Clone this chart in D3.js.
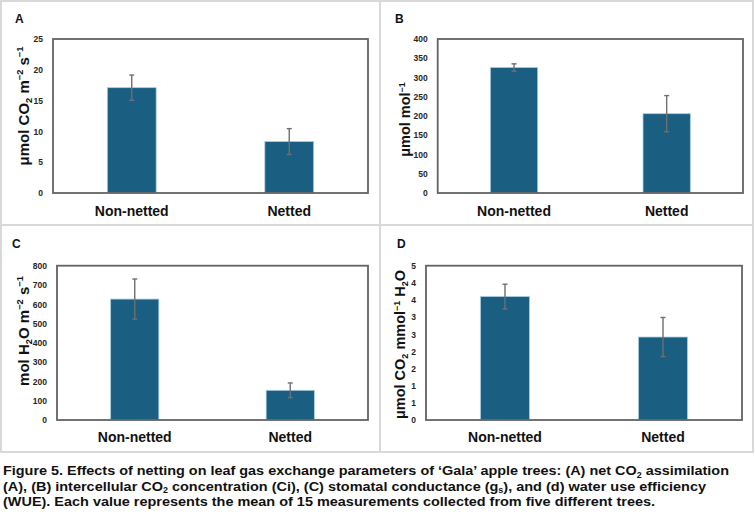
<!DOCTYPE html>
<html>
<head>
<meta charset="utf-8">
<script src="https://cdn.jsdelivr.net/npm/d3@7"></script>
<style>
html,body{margin:0;padding:0;background:#fff;}
svg{display:block;}
</style>
</head>
<body>
<svg id="chart" width="755" height="522"></svg>
<script>
// ---------- data ----------
const categories = ["Non-netted", "Netted"];
const valuesA = [17.1, 8.35];
const errorsA = [2.05, 2.1];
const valuesB = [326, 206];
const errorsB = [9.5, 47];
const valuesC = [627, 154];
const errorsC = [104, 38];
const valuesD = [3.6, 2.42];
const errorsD = [0.36, 0.57];
const ticksA = [0, 5, 10, 15, 20, 25];
const ticksB = [0, 50, 100, 150, 200, 250, 300, 350, 400];
const ticksC = [0, 100, 200, 300, 400, 500, 600, 700, 800];
const ticksD = [0, 0.5, 1, 1.5, 2, 2.5, 3, 3.5, 4, 4.5];
const tickLabelsD = ["0", "1", "1", "2", "2", "3", "3", "4", "4", "5"];
const panelLetters = ["A", "B", "C", "D"];
const titleA = [["μmol CO", "n"], ["2", "sub"], [" m", "n"], ["−2", "sup"], [" s", "n"], ["−1", "sup"]];
const titleB = [["μmol mol", "n"], ["−1", "sup"]];
const titleC = [["mol H", "n"], ["2", "sub"], ["O m", "n"], ["−2", "sup"], [" s", "n"], ["−1", "sup"]];
const titleD = [["μmol CO", "n"], ["2", "sub"], [" mmol", "n"], ["−1", "sup"], [" H", "n"], ["2", "sub"], ["O", "n"]];
const captionLines = [
  [["Figure 5. Effects of netting on leaf gas exchange parameters of ‘Gala’ apple trees: (A) net CO", "n"], ["2", "sub"], [" assimilation", "n"]],
  [["(A), (B) intercellular CO", "n"], ["2", "sub"], [" concentration (Ci), (C) stomatal conductance (g", "n"], ["s", "sub"], ["), and (d) water use efficiency", "n"]],
  [["(WUE). Each value represents the mean of 15 measurements collected from five different trees.", "n"]]
];

// ---------- layout ----------
const panels = [
  {letter: panelLetters[0], values: valuesA, errors: errorsA, ticks: ticksA, labels: null, max: 25, title: titleA,
   plot: {l: 53, t: 39, r: 368, b: 193}, letterPos: [15, 23], titleX: 28.5, titleY: 106, titleSize: 15, xLabelY: 216},
  {letter: panelLetters[1], values: valuesB, errors: errorsB, ticks: ticksB, labels: null, max: 400, title: titleB,
   plot: {l: 437.7, t: 39, r: 743, b: 193}, letterPos: [395, 23], titleX: 410, titleY: 119.5, titleSize: 14.5, xLabelY: 216},
  {letter: panelLetters[2], values: valuesC, errors: errorsC, ticks: ticksC, labels: null, max: 800, title: titleC,
   plot: {l: 57, t: 265.7, r: 368, b: 420}, letterPos: [12, 248], titleX: 28.5, titleY: 331, titleSize: 15, xLabelY: 441.5},
  {letter: panelLetters[3], values: valuesD, errors: errorsD, ticks: ticksD, labels: tickLabelsD, max: 4.5, title: titleD,
   plot: {l: 426, t: 265.7, r: 742, b: 420}, letterPos: [397, 248], titleX: 405, titleY: 344.5, titleSize: 14.5, xLabelY: 441.5}
];

const svg = d3.select("#chart");
const FONT = "'Liberation Sans', Arial, Helvetica, sans-serif";

// panel frames
const frame = svg.append("g").attr("stroke", "#d9d9d9").attr("stroke-width", 2).attr("fill", "none");
frame.append("rect").attr("x", 1).attr("y", 1).attr("width", 752).attr("height", 451);
frame.append("line").attr("x1", 380).attr("x2", 380).attr("y1", 1).attr("y2", 452);
frame.append("line").attr("x1", 1).attr("x2", 753).attr("y1", 225).attr("y2", 225);

function addRich(textSel, parts, baseSize) {
  let cur = 0;
  parts.forEach(([txt, kind]) => {
    let target = 0;
    if (kind === "sub") target = baseSize * 0.2;
    else if (kind === "sup") target = -baseSize * 0.38;
    const ts = textSel.append("tspan").text(txt);
    if (target !== cur) ts.attr("dy", target - cur);
    if (kind !== "n") ts.attr("font-size", baseSize * 0.62);
    cur = target;
  });
}

panels.forEach(p => {
  const g = svg.append("g");
  const x = d3.scaleBand().domain(categories).range([p.plot.l, p.plot.r]).paddingInner(0).paddingOuter(0);
  const y = d3.scaleLinear().domain([0, p.max]).range([p.plot.b, p.plot.t]);
  const barW = x.bandwidth() * 0.31;

  // y axis labels
  const yAxis = d3.axisLeft(y).tickValues(p.ticks).tickSize(0).tickPadding(10)
    .tickFormat((d, i) => p.labels ? p.labels[i] : d3.format("d")(d));
  const ya = g.append("g").attr("transform", `translate(${p.plot.l},0)`).call(yAxis);
  ya.select(".domain").remove();
  ya.selectAll("text").attr("font-family", FONT).attr("font-weight", "bold")
    .attr("font-size", 8.5).attr("fill", "#262626");

  // bars
  g.selectAll("rect.bar").data(categories).enter().append("rect")
    .attr("class", "bar")
    .attr("x", d => x(d) + (x.bandwidth() - barW) / 2)
    .attr("width", barW)
    .attr("y", (d, i) => y(p.values[i]))
    .attr("height", (d, i) => y(0) - y(p.values[i]))
    .attr("fill", "#1a5e82").attr("stroke", "#a9cde0").attr("stroke-width", 0.8);

  // error bars
  const eg = g.append("g").attr("stroke", "#6f6f6f").attr("stroke-width", 1.4);
  categories.forEach((c, i) => {
    const cx = x(c) + x.bandwidth() / 2;
    const hi = y(p.values[i] + p.errors[i]), lo = y(p.values[i] - p.errors[i]);
    eg.append("line").attr("x1", cx).attr("x2", cx).attr("y1", hi).attr("y2", lo);
    eg.append("line").attr("x1", cx - 2.5).attr("x2", cx + 2.5).attr("y1", hi).attr("y2", hi);
    eg.append("line").attr("x1", cx - 2.5).attr("x2", cx + 2.5).attr("y1", lo).attr("y2", lo);
  });

  // plot frame
  g.append("rect").attr("x", p.plot.l).attr("y", p.plot.t)
    .attr("width", p.plot.r - p.plot.l).attr("height", p.plot.b - p.plot.t)
    .attr("fill", "none").attr("stroke", "#636363").attr("stroke-width", 1.8);

  // x labels
  g.selectAll("text.xl").data(categories).enter().append("text")
    .attr("class", "xl")
    .attr("x", d => x(d) + x.bandwidth() / 2).attr("y", p.xLabelY)
    .attr("text-anchor", "middle").attr("font-family", FONT).attr("font-weight", "bold")
    .attr("font-size", 14).attr("fill", "#111").text(d => d);

  // y title
  const t = g.append("text")
    .attr("transform", `translate(${p.titleX},${p.titleY}) rotate(-90)`)
    .attr("text-anchor", "middle").attr("font-family", FONT).attr("font-weight", "bold")
    .attr("font-size", p.titleSize).attr("fill", "#111");
  addRich(t, p.title, p.titleSize);

  // panel letter
  g.append("text").attr("x", p.letterPos[0]).attr("y", p.letterPos[1])
    .attr("font-family", FONT).attr("font-weight", "bold").attr("font-size", 12).attr("fill", "#111")
    .text(p.letter);
});

// caption
const capY = [475, 490.5, 506];
const capW = [726, 703, 652];
captionLines.forEach((line, i) => {
  const t = svg.append("text").attr("x", 3).attr("y", capY[i])
    .attr("font-family", FONT)
    .attr("font-weight", "bold").attr("font-size", 13.5).attr("fill", "#111")
    .attr("textLength", capW[i]).attr("lengthAdjust", "spacingAndGlyphs");
  addRich(t, line, 13.5);
});
</script>
</body>
</html>
